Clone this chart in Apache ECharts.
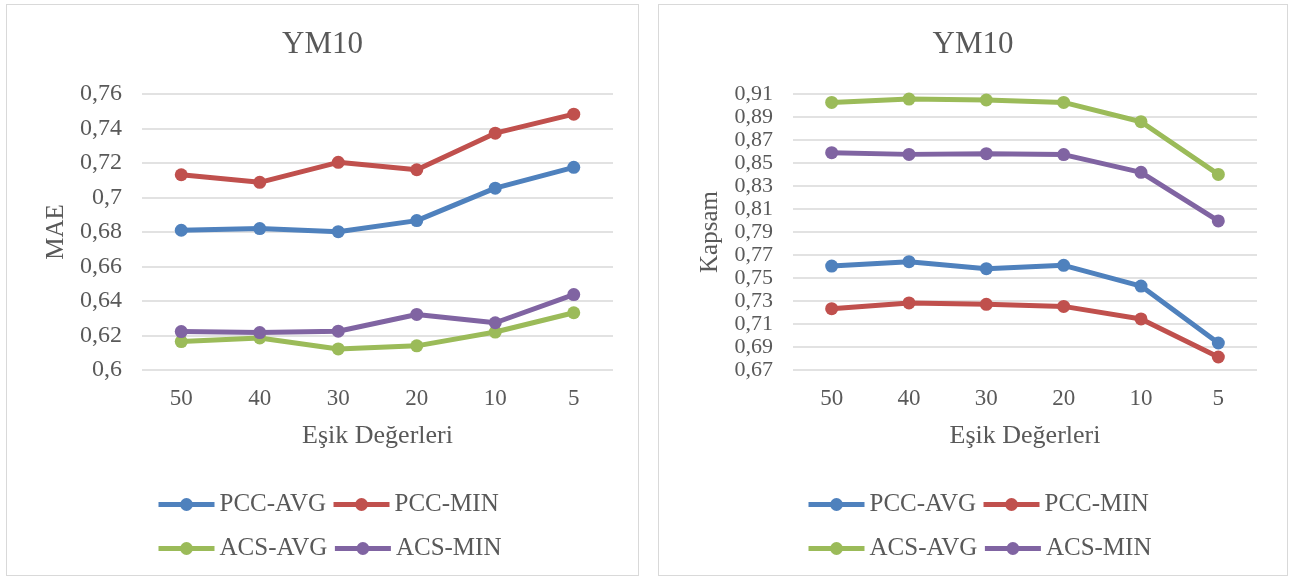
<!DOCTYPE html>
<html>
<head>
<meta charset="utf-8">
<script src="https://cdn.jsdelivr.net/npm/echarts@6/dist/echarts.min.js"></script>
<style>
  body { margin: 0; background: #fff; }
  .box { position: absolute; top: 4px; height: 572px; border: 1px solid #d9d9d9; box-sizing: border-box; }
  #main1 { left: 6px; width: 633px; }
  #main2 { left: 658px; width: 630px; }
</style>
</head>
<body>
<div id="main1" class="box"></div>
<div id="main2" class="box"></div>
<script>
var categories = ['50', '40', '30', '20', '10', '5'];
var seriesNames = ['PCC-AVG', 'PCC-MIN', 'ACS-AVG', 'ACS-MIN'];
var colors = ['#4F81BD', '#C0504D', '#9BBB59', '#8064A2'];

// MAE (left)
var maePccAvg = [0.681, 0.682, 0.6802, 0.6866, 0.7054, 0.7175];
var maePccMin = [0.7132, 0.7088, 0.7204, 0.7161, 0.7373, 0.7483];
var maeAcsAvg = [0.6165, 0.6186, 0.6122, 0.614, 0.622, 0.6332];
var maeAcsMin = [0.6223, 0.6217, 0.6225, 0.6322, 0.6274, 0.6437];

// Kapsam (right)
var kapPccAvg = [0.7604, 0.7642, 0.7581, 0.761, 0.743, 0.6935];
var kapPccMin = [0.7233, 0.7283, 0.7271, 0.7253, 0.7144, 0.6813];
var kapAcsAvg = [0.9027, 0.9056, 0.9048, 0.9027, 0.8859, 0.8401];
var kapAcsMin = [0.859, 0.8575, 0.8581, 0.8573, 0.8419, 0.7996];

var font = "'Liberation Serif', 'Times New Roman', serif";
var txt = '#595959';

function fmt(v) {
    return String(+v.toFixed(2)).replace('.', ',');
}

function legendRow(names, left, top) {
    return {
        data: names, left: left, top: top, padding: 0,
        itemWidth: 56, itemHeight: 16, itemGap: 5,
        lineStyle: { width: 5 },
        textStyle: { fontFamily: font, fontSize: 25, color: txt }
    };
}

function makeOption(yName, yMin, yMax, data, gridLeft, gridWidth, legendLeft, yFont) {
    return {
        color: colors,
        animation: false,
        textStyle: { fontFamily: font },
        title: {
            text: 'YM10', left: 'center', top: 24, padding: 0,
            textStyle: { fontFamily: font, fontSize: 31, fontWeight: 'normal', color: txt }
        },
        legend: [
            legendRow(seriesNames.slice(0, 2), legendLeft, 487),
            legendRow(seriesNames.slice(2, 4), legendLeft, 531)
        ],
        grid: { left: gridLeft, top: 89, width: gridWidth, height: 276 },
        xAxis: {
            type: 'category',
            data: categories,
            name: 'Eşik Değerleri',
            nameLocation: 'middle',
            nameGap: 53,
            nameTextStyle: { fontFamily: font, fontSize: 26, color: txt },
            axisLine: { show: false },
            axisTick: { show: false },
            axisLabel: { fontFamily: font, fontSize: 23, color: txt, margin: 17 }
        },
        yAxis: {
            type: 'value',
            min: yMin, max: yMax, interval: 0.02,
            name: yName,
            nameLocation: 'middle',
            nameGap: 70,
            nameTextStyle: { fontFamily: font, fontSize: 25, color: txt },
            axisLine: { show: false },
            axisTick: { show: false },
            axisLabel: {
                fontFamily: font, fontSize: yFont, color: txt, margin: 20, formatter: fmt,
                showMinLabel: true, showMaxLabel: true
            },
            splitLine: { lineStyle: { color: '#d9d9d9', width: 1.5 } }
        },
        series: data.map(function (d, i) {
            return {
                name: seriesNames[i], type: 'line', data: d,
                symbol: 'circle', symbolSize: 13,
                lineStyle: { width: 5 },
                itemStyle: { color: colors[i] }
            };
        })
    };
}

var chart1 = echarts.init(document.getElementById('main1'));
chart1.setOption(makeOption('MAE', 0.6, 0.76,
    [maePccAvg, maePccMin, maeAcsAvg, maeAcsMin], 135, 471, 149, 24));

var chart2 = echarts.init(document.getElementById('main2'));
chart2.setOption(makeOption('Kapsam', 0.67, 0.91,
    [kapPccAvg, kapPccMin, kapAcsAvg, kapAcsMin], 134, 464, 147, 22));
</script>
</body>
</html>
